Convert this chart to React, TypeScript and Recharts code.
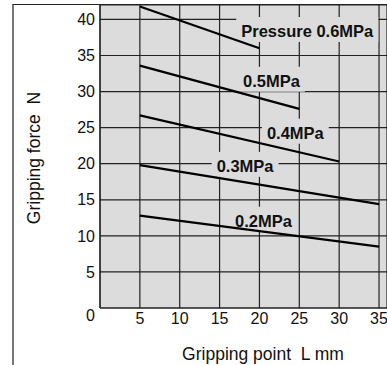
import React from "react";
import { LineChart, Line, XAxis, YAxis, CartesianGrid, ReferenceDot } from "recharts";

// one line per pressure, straight from the shortest to the longest gripping point
const pressures = ["0.6MPa", "0.5MPa", "0.4MPa", "0.3MPa", "0.2MPa"];
const startPoint = [5, 5, 5, 5, 5];
const endPoint = [20, 25, 30, 35, 35];
const startForce = [41.8, 33.6, 26.7, 19.8, 12.8];
const endForce = [36.0, 27.6, 20.3, 14.4, 8.5];

// line labels, in data units
const labelText = ["Pressure 0.6MPa", "0.5MPa", "0.4MPa", "0.3MPa", "0.2MPa"];
const labelPoint = [26, 21.5, 24.5, 18.2, 20.5];
const labelForce = [38.4, 31.5, 24.3, 19.7, 12.1];

const xTicks = [5, 10, 15, 20, 25, 30, 35];
const yTicks = [0, 5, 10, 15, 20, 25, 30, 35, 40];

const FONT = '"Liberation Sans", Arial, Helvetica, sans-serif';
const BG = "#dcdcdc";
const LABEL_SIZE = 16.5;

function textWidth(s: string) {
  const ctx = document.createElement("canvas").getContext("2d");
  if (!ctx) return s.length * 9;
  ctx.font = `bold ${LABEL_SIZE}px ${FONT}`;
  return ctx.measureText(s).width;
}

const YTick = ({ x, y, payload }: any) => (
  <text x={x} y={y + (payload.value === 0 ? 7 : 0)} dy="0.355em" textAnchor="end" fontSize={16} fill="#111" fontFamily={FONT}>
    {payload.value}
  </text>
);

const PressureLabel = (text: string) => (props: any) => {
  const { cx, cy } = props;
  const w = textWidth(text) + 10;
  return (
    <g>
      <rect x={cx - w / 2} y={cy - 14} width={w} height={25} fill={BG} />
      <text x={cx} y={cy} dy="0.355em" textAnchor="middle" fontSize={LABEL_SIZE} fontWeight="bold" fill="#111" fontFamily={FONT}>
        {text}
      </text>
    </g>
  );
};

export default function App() {
  const series = pressures.map((p, i) => ({
    name: p,
    data: [
      { L: startPoint[i], force: startForce[i] },
      { L: endPoint[i], force: endForce[i] },
    ],
  }));

  return (
    <div style={{ position: "absolute", left: 0, top: 0, width: 387, height: 365, background: "#fff", fontFamily: FONT }}>
      <LineChart width={387} height={365} margin={{ top: 5, right: 0, left: 0, bottom: 0 }}>
        <CartesianGrid fill={BG} stroke="#222" strokeWidth={1.2} strokeDasharray="" />
        <XAxis
          type="number"
          dataKey="L"
          domain={[0, 36]}
          ticks={xTicks}
          allowDuplicatedCategory={false}
          height={57}
          tickLine={false}
          tickSize={0}
          tickMargin={5}
          axisLine={{ stroke: "#222", strokeWidth: 1.2 }}
          tick={{ fontSize: 16, fill: "#111", fontFamily: FONT }}
          label={{
            content: () => (
              <text x={263} y={360} textAnchor="middle" fontSize={17.5} fill="#111" fontFamily={FONT}>
                {"Gripping point\u00a0\u00a0L mm"}
              </text>
            ),
          }}
        />
        <YAxis
          type="number"
          dataKey="force"
          domain={[0, 42]}
          ticks={yTicks}
          width={100}
          tickLine={false}
          tickSize={0}
          tickMargin={5}
          axisLine={{ stroke: "#222", strokeWidth: 1.2 }}
          tick={<YTick />}
          label={{
            content: () => (
              <text transform="translate(34,158) rotate(-90)" textAnchor="middle" dy="0.355em" fontSize={17.5} fill="#111" fontFamily={FONT}>
                {"Gripping force\u00a0\u00a0N"}
              </text>
            ),
          }}
        />
        {labelText.map((t, i) => (
          <ReferenceDot key={t} x={labelPoint[i]} y={labelForce[i]} r={0} zIndex={350} shape={PressureLabel(t)} />
        ))}
        {series.map((s) => (
          <Line
            key={s.name}
            data={s.data}
            dataKey="force"
            name={s.name}
            stroke="#000"
            strokeWidth={2.2}
            dot={false}
            activeDot={false}
            isAnimationActive={false}
          />
        ))}
      </LineChart>
      <div
        style={{
          position: "absolute",
          left: 12,
          top: 4,
          right: 0,
          bottom: 0,
          borderLeft: "2px solid #777",
          borderTop: "1.5px solid #222",
          pointerEvents: "none",
        }}
      />
    </div>
  );
}
